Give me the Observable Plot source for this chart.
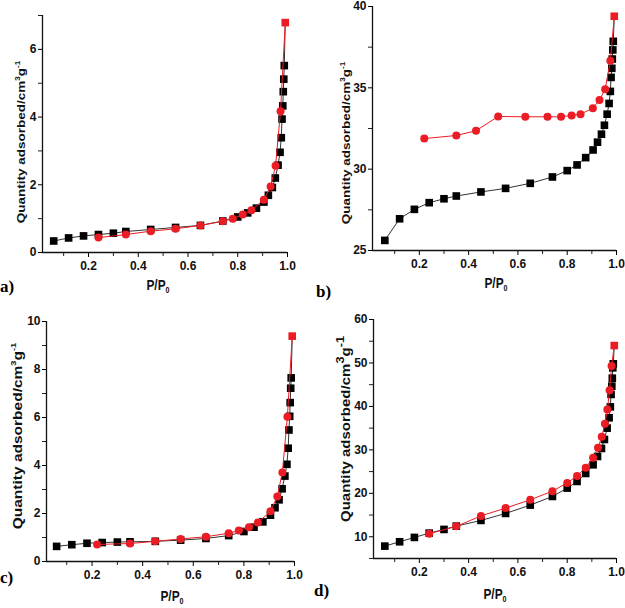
<!DOCTYPE html>
<html>
<head>
<meta charset="utf-8">
<script src="https://cdn.jsdelivr.net/npm/d3@7"></script>
<script src="https://cdn.jsdelivr.net/npm/@observablehq/plot@0.6"></script>
<style>
  html, body { margin: 0; padding: 0; background: #fff; }
  #root { position: relative; width: 625px; height: 608px; overflow: hidden; font-family: "Liberation Sans", Arial, sans-serif; }
  .panel { position: absolute; }
  .ytitle { position: absolute; transform: translate(-50%, -50%) rotate(-90deg) scaleY(0.85); white-space: nowrap; font-weight: bold; font-size: 13.5px; color: #111; font-family: "Liberation Sans", Arial, sans-serif; }
  .ytitle sup { font-size: 60%; vertical-align: 0.75em; line-height: 0; }
  .ytitle.big sup { font-size: 85%; vertical-align: 0.5em; }
  .xtitle { position: absolute; transform: translate(-50%, -50%) scaleX(0.85); white-space: nowrap; font-weight: bold; font-size: 14px; color: #111; font-family: "Liberation Sans", Arial, sans-serif; }
  .xtitle sub { font-size: 60%; vertical-align: -0.35em; line-height: 0; }
  .tag { position: absolute; font-family: "Liberation Serif", "Times New Roman", serif; font-weight: bold; font-size: 17px; color: #000; transform: translate(0, -50%); }
</style>
</head>
<body>
<div id="root"></div>
<script>
// ---- Data ----
// relative pressure of adsorption branch (black squares)
const pAds = [0.06, 0.12, 0.18, 0.24, 0.30, 0.35, 0.45, 0.55, 0.65, 0.74, 0.80, 0.84, 0.875, 0.905, 0.923, 0.939, 0.951, 0.962, 0.970, 0.975, 0.978, 0.981, 0.983, 0.985, 0.987, 0.991];
// relative pressure of desorption branch (red circles)
const pDesA = [0.24, 0.35, 0.45, 0.55, 0.65, 0.74, 0.78, 0.82, 0.855, 0.905, 0.932, 0.952, 0.972, 0.991];
const pDesB = [0.22, 0.35, 0.43, 0.52, 0.63, 0.72, 0.775, 0.818, 0.854, 0.904, 0.931, 0.954, 0.975, 0.991];
const pDesC = [0.22, 0.35, 0.45, 0.55, 0.65, 0.74, 0.78, 0.82, 0.855, 0.905, 0.932, 0.952, 0.972, 0.991];
const pDesD = [0.24, 0.35, 0.45, 0.55, 0.65, 0.74, 0.80, 0.84, 0.875, 0.905, 0.925, 0.94, 0.953, 0.963, 0.972, 0.98, 0.991];

const adsA = [0.34, 0.43, 0.49, 0.53, 0.57, 0.62, 0.68, 0.74, 0.80, 0.93, 1.05, 1.17, 1.31, 1.49, 1.69, 1.92, 2.20, 2.58, 2.96, 3.39, 3.94, 4.33, 4.75, 5.12, 5.52, 6.79];
const desA = [0.44, 0.53, 0.63, 0.70, 0.80, 0.92, 1.00, 1.12, 1.25, 1.56, 1.95, 2.56, 4.17, 6.79];

const adsB = [25.62, 26.95, 27.53, 27.94, 28.18, 28.35, 28.60, 28.82, 29.13, 29.52, 29.91, 30.26, 30.71, 31.18, 31.66, 32.15, 32.70, 33.38, 34.04, 34.78, 35.64, 36.20, 36.77, 37.33, 37.86, 39.40];
const desB = [31.88, 32.07, 32.36, 33.24, 33.22, 33.22, 33.22, 33.30, 33.38, 33.75, 34.25, 34.92, 36.67, 39.40];

const adsC = [0.63, 0.70, 0.76, 0.79, 0.81, 0.82, 0.84, 0.89, 0.96, 1.08, 1.25, 1.43, 1.65, 1.93, 2.24, 2.57, 3.03, 3.56, 4.05, 4.72, 5.48, 6.05, 6.62, 7.22, 7.65, 9.39];
const desC = [0.71, 0.75, 0.84, 0.94, 1.03, 1.18, 1.29, 1.43, 1.62, 2.09, 2.71, 3.71, 6.03, 9.39];

const adsD = [7.85, 8.85, 9.85, 10.84, 11.69, 12.45, 13.76, 15.37, 17.29, 19.28, 21.2, 22.73, 24.57, 26.56, 28.48, 30.32, 32.39, 35.0, 37.38, 39.9, 42.75, 44.66, 46.5, 48.88, 49.8, 54.0];
const desD = [10.7, 12.4, 14.8, 16.6, 18.5, 20.5, 22.4, 24.0, 25.9, 28.2, 30.5, 33.0, 36.0, 39.3, 43.7, 49.3, 54.0];

// tick labels
const xMajor = [0.2, 0.4, 0.6, 0.8, 1.0];
const xMinor = [0.1, 0.3, 0.5, 0.7, 0.9];
const yMajorA = [0, 2, 4, 6], yMinorA = [1, 3, 5, 7];
const yMajorB = [25, 30, 35, 40], yMinorB = [27.5, 32.5, 37.5];
const yMajorC = [0, 2, 4, 6, 8, 10], yMinorC = [1, 3, 5, 7, 9];
const yMajorD = [10, 20, 30, 40, 50, 60], yMinorD = [5, 15, 25, 35, 45, 55];

const panelTags = ["a)", "b)", "c)", "d)"];
const xTitle = "P/P<sub>0</sub>";
const yTitle = "Quantity adsorbed/cm<sup>3</sup>g<sup>-1</sup>";

const RED = "#ec1c24";
const BLACK = "#000";
const SANS = "'Liberation Sans', Arial, sans-serif";

function zip(xs, ys) { return xs.map((x, i) => ({x, y: ys[i]})); }

function panel(cfg) {
  const ads = zip(pAds, cfg.ads);
  const des = zip(cfg.pDes, cfg.des);
  const tickFont = {fontSize: 12, fontWeight: "bold", fill: "#111", fontFamily: SANS};
  return Plot.plot({
    width: cfg.width, height: cfg.height,
    marginLeft: cfg.m[0], marginRight: cfg.m[1], marginTop: cfg.m[2], marginBottom: cfg.m[3],
    style: {fontFamily: SANS, background: "transparent", overflow: "visible"},
    x: {domain: cfg.xDomain, axis: null},
    y: {domain: cfg.yDomain, axis: null},
    marks: [
      Plot.axisX(xMinor, {tickSize: 4, tickFormat: () => "", label: null, stroke: "#222"}),
      Plot.axisX(xMajor, {tickSize: 5, tickPadding: 4, tickFormat: d3.format(".1f"), label: null, ...tickFont}),
      Plot.axisY(cfg.yMinor, {tickSize: 4, tickFormat: () => "", label: null, stroke: "#222"}),
      Plot.axisY(cfg.yMajor, {tickSize: 4, tickPadding: 2, tickFormat: d => String(d), label: null, ...tickFont}),
      Plot.ruleX([cfg.xDomain[0]], {stroke: "#111", strokeWidth: 1.3}),
      Plot.ruleY([cfg.yDomain[0]], {stroke: "#111", strokeWidth: 1.3}),
      Plot.line(ads, {x: "x", y: "y", stroke: "#333", strokeWidth: 1}),
      Plot.dot(ads.slice(0, -1), {x: "x", y: "y", symbol: "square", r: 4.3, fill: BLACK, stroke: "none"}),
      Plot.line(des, {x: "x", y: "y", stroke: RED, strokeWidth: 1}),
      Plot.dot(des.slice(0, -1), {x: "x", y: "y", symbol: "circle", r: 4, fill: RED, stroke: "none"}),
      Plot.dot(ads.slice(-1), {x: "x", y: "y", symbol: "square", r: 4.3, fill: RED, stroke: "none"})
    ]
  });
}

const root = document.getElementById("root");
const panels = [
  {left: 0, top: 0, width: 312, height: 304, m: [42, 25, 15, 52], xDomain: [0.015, 1.0], yDomain: [0, 7], yMajor: yMajorA, yMinor: yMinorA, ads: adsA, pDes: pDesA, des: desA,
   ytitle: [21, 142], yfs: 13.5, xtitle: [158, 285], tag: [0, 287], big: false},
  {left: 312, top: 0, width: 313, height: 304, m: [60, 9, 6, 54], xDomain: [0.01, 1.0], yDomain: [25, 40], yMajor: yMajorB, yMinor: yMinorB, ads: adsB, pDes: pDesB, des: desB,
   ytitle: [346, 143], yfs: 13.5, xtitle: [496, 283], tag: [316, 292], big: false},
  {left: 0, top: 304, width: 312, height: 304, m: [46, 18, 17, 47], xDomain: [0.02, 1.0], yDomain: [0, 10], yMajor: yMajorC, yMinor: yMinorC, ads: adsC, pDes: pDesC, des: desC,
   ytitle: [18, 436], yfs: 15.5, xtitle: [172, 596], tag: [0, 578], big: false},
  {left: 312, top: 304, width: 313, height: 304, m: [61, 9, 15, 50], xDomain: [0.014, 1.0], yDomain: [5, 60], yMajor: yMajorD, yMinor: yMinorD, ads: adsD, pDes: pDesD, des: desD,
   ytitle: [345, 429], yfs: 15, xtitle: [495, 594], tag: [314, 591], big: true}
];

panels.forEach((p, i) => {
  const svg = panel(p);
  svg.classList.add("panel");
  svg.style.left = p.left + "px";
  svg.style.top = p.top + "px";
  root.appendChild(svg);

  const yt = document.createElement("div");
  yt.className = "ytitle" + (p.big ? " big" : "");
  yt.innerHTML = yTitle;
  yt.style.left = p.ytitle[0] + "px";
  yt.style.top = p.ytitle[1] + "px";
  yt.style.fontSize = p.yfs + "px";
  root.appendChild(yt);

  const xt = document.createElement("div");
  xt.className = "xtitle";
  xt.innerHTML = xTitle;
  xt.style.left = p.xtitle[0] + "px";
  xt.style.top = p.xtitle[1] + "px";
  root.appendChild(xt);

  const tg = document.createElement("div");
  tg.className = "tag";
  tg.textContent = panelTags[i];
  tg.style.left = p.tag[0] + "px";
  tg.style.top = p.tag[1] + "px";
  root.appendChild(tg);
});
</script>
</body>
</html>
